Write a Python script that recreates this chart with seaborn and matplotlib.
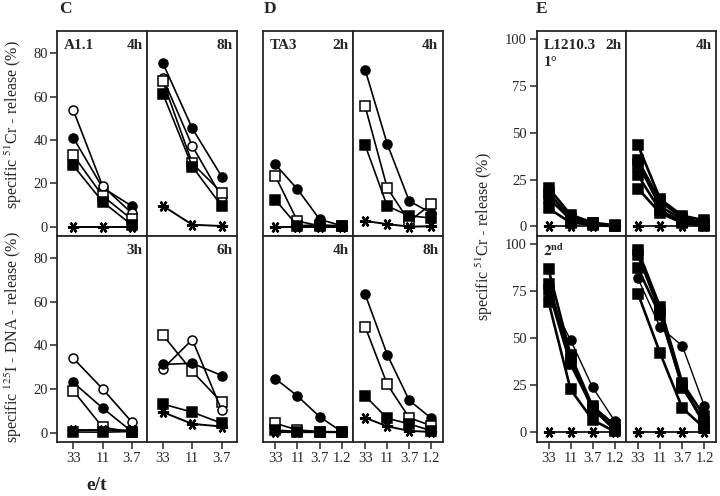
import matplotlib
matplotlib.use('Agg')
import matplotlib.pyplot as plt
import seaborn as sns

# e/t ratios
et3 = ['33', '11', '3.7']
et4 = ['33', '11', '3.7', '1.2']

# C: A1.1, 51Cr (top) and 125I-DNA (bottom)
c_4h = {'fc': [41, 18, 9.5], 'oc': [53.7, 18.8, 6.2], 'os': [33, 14.2, 3.4],
        'fs': [28.2, 11.5, 0.8], 'ast': [0, 0, 0]}
c_8h = {'fc': [75.4, 45.3, 23.1], 'oc': [68.5, 37.2, 13.6], 'os': [67, 29.2, 15.7],
        'fs': [61.3, 27.7, 9.5], 'ast': [9.6, 0.9, 0.3]}
c_3h = {'oc': [34.1, 20.1, 4.9], 'fc': [23, 11.3, 0.5], 'os': [19.2, 2.5, 0.2],
        'ast': [1.2, 1.2, 1], 'fs': [0.3, 0.2, 0.5]}
c_6h = {'os': [44.8, 28.1, 13.9], 'oc': [29.3, 42.7, 10.2], 'fc': [31.3, 31.8, 26.2],
        'fs': [13.1, 9.4, 4.3], 'ast': [9.4, 4, 2.8]}

# D: TA3
d_2h = {'fc': [28.7, 17.3, 3.4, 0.4], 'os': [23.4, 2.6, 0.4, 0.4],
        'fs': [12.4, 0.4, 0.9, 0.3], 'ast': [0, 0, 0, 0]}
d_4h = {'fc': [72.3, 38.2, 11.8, 6.3], 'os': [55.4, 17.9, 2.4, 10.5],
        'fs': [37.5, 9.5, 5, 4], 'ast': [2.6, 1.2, 0, 0.2]}
d_4h_b = {'fc': [24.8, 16.8, 7.3, 0.4], 'os': [4.3, 1.2, 0.5, 0.4],
          'fs': [1.2, 0.5, 0.3, 0.2], 'ast': [0.3, 0.2, 0.2, 0.2]}
d_8h = {'fc': [63.4, 35.8, 14.8, 6.6], 'os': [48.5, 22.2, 6.8, 3.2],
        'fs': [16.8, 6.6, 4, 0.9], 'ast': [6.8, 2.9, 0.8, 0.3]}

# E: L1210.3, 1st (top) and 2nd (bottom) stimulation
e_2h_1 = {'fs1': [20.5, 6.2, 2, 0.5], 'fs2': [17.9, 4.5, 1.5, 0.3],
          'fs3': [15.2, 3.6, 1.2, 0.2], 'fs4': [9.6, 2, 0.8, 0],
          'ast': [0, 0, 0, 0]}
e_4h_1 = {'fs1': [43.4, 14.6, 5.7, 3.2], 'fs2': [35.4, 13.4, 4.5, 1.8],
          'fs3': [33.5, 10.7, 3.6, 1.2], 'fs4': [27.3, 8.5, 2.5, 0.8],
          'fs5': [20.2, 7.1, 1.8, 0.3], 'ast': [0, 0, 0, 0]}
e_2h_2 = {'fc': [72, 49.1, 24, 6.1], 'fs1': [86.7, 41, 13.8, 3.9],
          'fs2': [79.2, 38.9, 12, 2.2], 'fs3': [75.6, 36.2, 13, 1.2],
          'fs4': [69.4, 22.8, 6.6, 0.4], 'ast': [0, 0, 0, 0]}
e_4h_2 = {'fc': [81.9, 55.9, 46, 13.8], 'fs1': [96.8, 66.7, 26.3, 8.4],
          'fs2': [94.4, 64, 23.7, 5.7], 'fs3': [87.3, 62.2, 25, 3.9],
          'fs4': [73.8, 42.1, 12.9, 2.2], 'ast': [0, 0, 0, 0]}

sns.set_style('ticks')
plt.rcParams['font.family'] = ['Liberation Serif', 'DejaVu Serif']
plt.rcParams['mathtext.fontset'] = 'stix'

W, H = 720, 496
fig = plt.figure(figsize=(7.2, 4.96), dpi=100)


def box(x0, x1, y0, y1):
    return fig.add_axes([x0 / W, 1 - y1 / H, (x1 - x0) / W, (y1 - y0) / H])


def style(key):
    if key.startswith('ast'):
        return dict(marker=(6, 2, 90), markersize=8, markeredgewidth=1.7)
    m = 'o' if key[1] == 'c' else 's'
    fc = 'black' if key[0] == 'f' else 'white'
    return dict(marker=m, markersize=6.5, markeredgewidth=1.1, markerfacecolor=fc)


def draw(ax, et, panel, lw=1.2, lw_sq=None):
    for key, vals in panel.items():
        w = lw_sq if (lw_sq and key.startswith('fs')) else lw
        if key.startswith('ast'):
            # connecting line first, then the asterisk marks on top
            sns.lineplot(x=et, y=vals, ax=ax, sort=False, color='black', linewidth=w + 0.2)
            sns.lineplot(x=et, y=vals, ax=ax, sort=False, color='black', linestyle='',
                         markeredgecolor='black', **style(key))
        else:
            sns.lineplot(x=et, y=vals, ax=ax, sort=False, color='black', linewidth=w,
                         markeredgecolor='black', **style(key))
    n = len(et)
    ax.set_xlim(-0.54, n - 0.48)
    ax.set_xlabel('')
    ax.set_ylabel('')
    for s in ax.spines.values():
        s.set_linewidth(1.3)
    ax.tick_params(length=5, width=1.1, labelsize=10.5, pad=2)


def fmt(ax, yticks, ylim, left, bottom):
    ax.set_ylim(*ylim)
    ax.set_yticks(yticks)
    ax.tick_params(axis='y', left=left, labelleft=left)
    ax.tick_params(axis='x', bottom=bottom, labelbottom=bottom)


bold = dict(fontweight='bold', fontsize=11)
yc = [0, 20, 40, 60, 80]
ye = [0, 25, 50, 75, 100]
lim_c = (-4.3, 90.2)
lim_e = (-5.2, 104.5)

panels = [
    # x0, x1, row, et, data, yticks, ylim, y ticks shown, left text, right text
    (57.5, 147, 0, et3, c_4h, yc, lim_c, True, 'A1.1', '4h'),
    (147, 237, 0, et3, c_8h, yc, lim_c, False, '', '8h'),
    (57.5, 147, 1, et3, c_3h, yc, lim_c, True, '', '3h'),
    (147, 237, 1, et3, c_6h, yc, lim_c, False, '', '6h'),
    (263.3, 353.3, 0, et4, d_2h, yc, lim_c, False, 'TA3', '2h'),
    (353.3, 442.7, 0, et4, d_4h, yc, lim_c, False, '', '4h'),
    (263.3, 353.3, 1, et4, d_4h_b, yc, lim_c, False, '', '4h'),
    (353.3, 442.7, 1, et4, d_8h, yc, lim_c, False, '', '8h'),
    (536.7, 626, 0, et4, e_2h_1, ye, lim_e, True, 'L1210.3', '2h'),
    (626, 716, 0, et4, e_4h_1, ye, lim_e, False, '', '4h'),
    (536.7, 626, 1, et4, e_2h_2, ye, lim_e, True, r'$\mathbf{2^{nd}}$', ''),
    (626, 716, 1, et4, e_4h_2, ye, lim_e, False, '', ''),
]

for x0, x1, row, et, data, yt, ylim, left, ltxt, rtxt in panels:
    y0, y1 = (31, 236) if row == 0 else (236, 442)
    ax = box(x0, x1, y0, y1)
    is_e = x0 > 500
    draw(ax, et, data, lw=1.0 if is_e else 1.2, lw_sq=1.9 if is_e else None)
    fmt(ax, yt, ylim, left, row == 1)
    if ltxt:
        ax.text(0.075, 0.93, ltxt, transform=ax.transAxes, ha='left', va='center', **bold)
    if rtxt:
        ax.text(0.95, 0.93, rtxt, transform=ax.transAxes, ha='right', va='center', **bold)
    if is_e and row == 0 and ltxt:
        ax.text(0.075, 0.845, '1°', transform=ax.transAxes, ha='left', va='center', **bold)

# group letters
for letter, x in [('C', 65), ('D', 270), ('E', 542)]:
    fig.text(x / W, 1 - 9 / H, letter, ha='center', va='center',
             fontweight='bold', fontsize=12.5)

# axis labels
fig.text(13 / W, 1 - 125 / H, r'specific $^{51}$Cr - release (%)', rotation=90,
         ha='center', va='center', fontsize=11.5)
fig.text(13 / W, 1 - 337 / H, r'specific $^{125}$I - DNA - release (%)', rotation=90,
         ha='center', va='center', fontsize=11.5)
fig.text(484 / W, 1 - 237 / H, r'specific $^{51}$Cr - release (%)', rotation=90,
         ha='center', va='center', fontsize=11.5)
fig.text(97 / W, 1 - 486 / H, 'e/t', ha='center', va='center',
         fontweight='bold', fontsize=14)

fig.savefig('out.png', dpi=100)
